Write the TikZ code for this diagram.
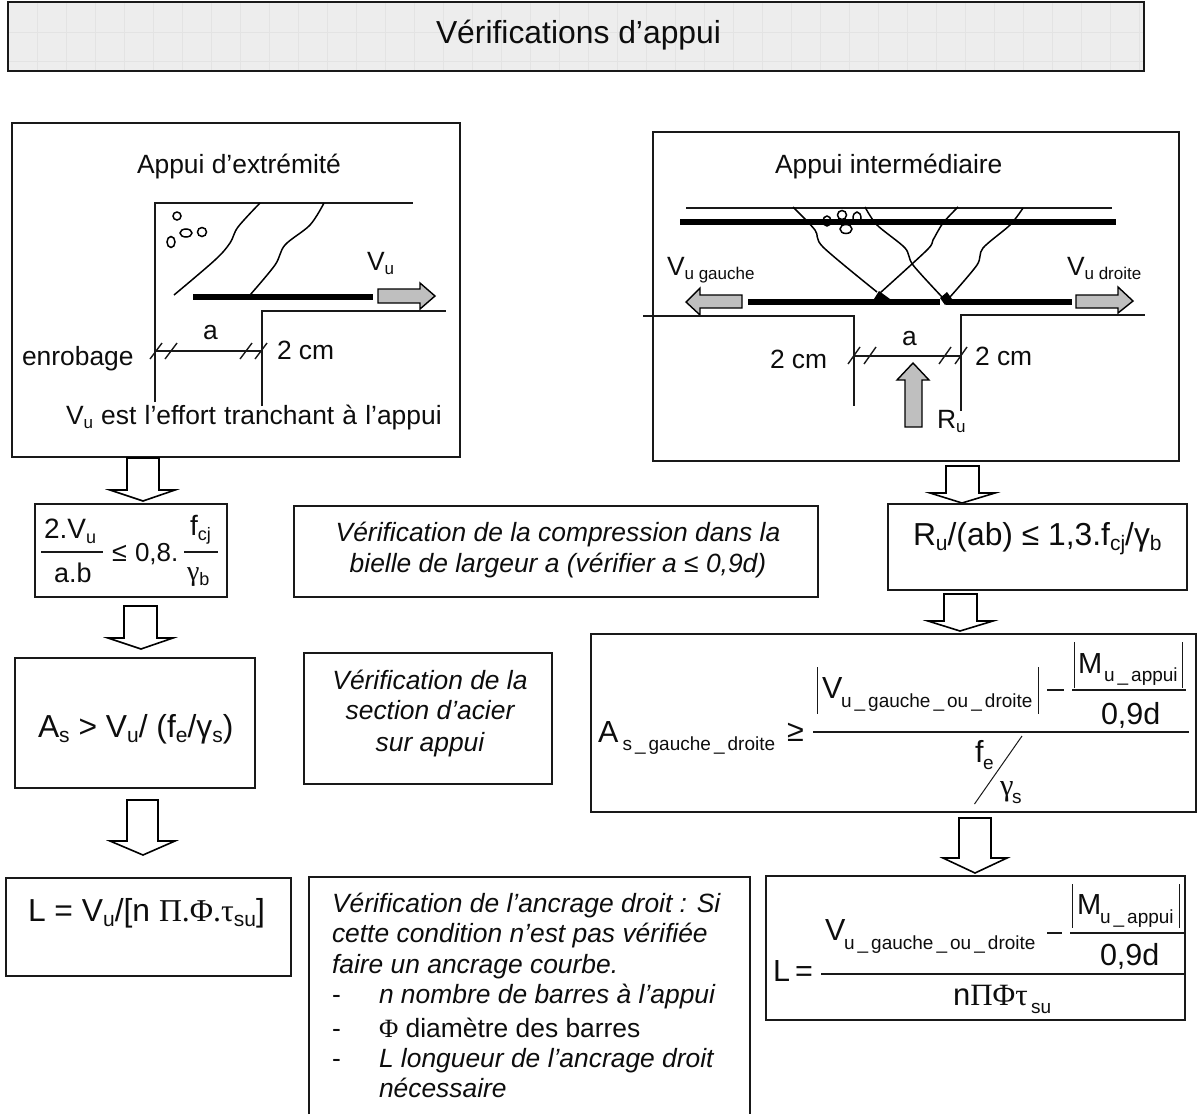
\documentclass[tikz,border=0pt]{standalone}
\usepackage{fontspec}
\setmainfont{Liberation Sans}
\newfontfamily\serifg{Liberation Serif}
\newcommand\fs{\fontsize{26.4}{30}\selectfont}
\newcommand\sbs[1]{\raisebox{-4.5pt}{\fontsize{17}{17}\selectfont #1}}
\newcommand\sbf[1]{\raisebox{-5pt}{\fontsize{18}{18}\selectfont #1}}
\newcommand\sbb[1]{\raisebox{-5.5pt}{\fontsize{21}{21}\selectfont #1}}
\newcommand\us{\hspace{.16em}\_\hspace{.16em}}
\newcommand\T[4]{\node[txt] (#1) at (#2,#3) {#4};}
\newcommand\TT[5]{\node[txt,font=\fontsize{#1}{#1}\selectfont] (#2) at (#3,#4) {#5};}
\newcommand\B[5]{\pgfmathsetmacro\bw{#4-#2}\pgfmathsetmacro\bh{#5-#3}\node[box,minimum width=\bw pt,minimum height=\bh pt] (#1) at ({(#2+#4)/2},{(#3+#5)/2}) {};}
% hollow block arrow: x-left-shaft, x-right-shaft, top, head base, head left, head right, tip x, tip y
\newcommand\Hol[8]{\draw[hollow] (#1,#3) -- (#2,#3) -- (#2,#4) -- (#6,#4) -- (#7,#8) -- (#5,#4) -- (#1,#4) -- cycle;}
\tikzset{
  x=1pt,y=-1pt,
  box/.style={draw=black!90,line width=1.8pt,inner sep=0pt,outer sep=0pt},
  txt/.style={anchor=base west,inner sep=0pt,outer sep=0pt,font=\fs,text=black!95},
  hollow/.style={draw=black,line width=1.6pt,fill=white,line join=miter},
  thinl/.style={line width=1.4pt,draw=black!90},
  hair/.style={line width=1pt,draw=black!90},
  crack/.style={line width=1.5pt,draw=black},
  rebar/.style={line width=6.5pt,draw=black},
  force/.style={draw=black,line width=1.4pt,fill=black!25}
}
\begin{document}
\begin{tikzpicture}
\useasboundingbox (0,0) rectangle (1197,1114);
% title
\fill[black!7] (8,2) rectangle (1144,71);
\foreach \gx in {37,66,...,1144} \draw[black!11,line width=.8pt] (\gx,3) -- (\gx,70);
\foreach \gy in {32,61} \draw[black!11,line width=.8pt] (9,\gy) -- (1143,\gy);
\B{title}{8}{2}{1144}{71}
\TT{31.85}{titletxt}{436}{43}{Vérifications d’appui}
% left support box
\B{endbox}{12}{123}{460}{457}
\T{endlab}{137}{173}{Appui d’extrémité}
\draw[thinl] (155,402) -- (155,203) -- (413,203);
\draw[crack] plot[smooth,tension=.55] coordinates {(260,203) (238,227) (230,243) (215,260) (174,295)};
\draw[crack] plot[smooth,tension=.55] coordinates {(324,203) (310,225) (285,245) (275,265) (250,295)};
\draw[crack] (177,216) circle (4pt) (186,233) ellipse [x radius=6pt,y radius=4pt] (202,232) circle (4.5pt) (171,242) ellipse [x radius=4pt,y radius=5.5pt];
\draw[rebar] (193,297) -- (373,297);
\draw[force] (378,289) -- (420,289) -- (420,283) -- (435,296) -- (420,309) -- (420,303) -- (378,303) -- cycle;
\draw[thinl] (262,406) -- (262,311) -- (446,311);
\draw[thinl] (155,351) -- (262,351);
\foreach \tx in {156,171,246,261} \draw[thinl] (\tx-6,359) -- (\tx+6,343);
\T{enda}{203}{339}{a}
\T{endenr}{22}{365}{enrobage}
\T{end2cm}{277}{359}{2 cm}
\T{endvu}{367}{270}{V\sbs{u}}
\T{endnote}{66}{424}{\spaceskip=.31em V\sbs{u} est l’effort tranchant à l’appui}
% right support box
\B{midbox}{653}{132}{1179}{461}
\T{midlab}{775}{173}{Appui intermédiaire}
\draw[thinl] (686,208) -- (1112,208);
\draw[crack] plot[smooth,tension=.5] coordinates {(793,207) (815,230) (823,247) (877,292)};
\draw[crack] plot[smooth,tension=.5] coordinates {(865,207) (877,225) (905,248) (913,265) (943,298)};
\draw[crack] plot[smooth,tension=.5] coordinates {(958,207) (943,223) (933,240) (927,250) (880,293)};
\draw[crack] plot[smooth,tension=.5] coordinates {(1023,208) (1010,225) (983,248) (977,265) (950,297)};
\draw[crack] (827,221) ellipse [x radius=4pt,y radius=5pt] (842,215) circle (4.5pt) (857,218) ellipse [x radius=4pt,y radius=6pt] (846,229) ellipse [x radius=6pt,y radius=4.5pt];
\draw[rebar] (680,222) -- (1116,222);
\draw[rebar] (748,302) -- (940,302);
\draw[rebar] (946,302) -- (1072,302);
\fill[black] (874,299) -- (879,291) -- (890,299) -- cycle;
\fill[black] (940,298) -- (947,292) -- (952,299) -- (945,305) -- cycle;
\draw[force] (742,295) -- (700,295) -- (700,288) -- (686,302) -- (700,315) -- (700,308) -- (742,308) -- cycle;
\draw[force] (1076,295) -- (1118,295) -- (1118,287) -- (1133,301) -- (1118,313) -- (1118,308) -- (1076,308) -- cycle;
\draw[thinl] (643,316) -- (854,316) -- (854,406);
\draw[thinl] (961,411) -- (961,315) -- (1145,315);
\draw[thinl] (854,356) -- (961,356);
\foreach \tx in {854,870,945,961} \draw[thinl] (\tx-6,364) -- (\tx+6,347);
\draw[force] (905,427) -- (905,380) -- (897,380) -- (913,363) -- (929,380) -- (922,380) -- (922,427) -- cycle;
\T{mida}{902}{345}{a}
\T{midl2}{770}{368}{2 cm}
\T{midr2}{975}{365}{2 cm}
\T{midru}{937}{428}{R\sbs{u}}
\T{midvg}{667}{275}{V\sbs{u gauche}}
\T{midvd}{1067}{275}{V\sbs{u droite}}
% hollow arrows
\Hol{127}{159}{458}{490}{110}{175}{143}{501}
\Hol{124}{157}{606}{638}{108}{173}{141}{649}
\Hol{127}{158}{800}{841}{110}{175}{143}{855}
\Hol{946}{979}{466}{493}{930}{995}{962}{503}
\Hol{944}{977}{594}{621}{928}{993}{960}{631}
\Hol{959}{991}{818}{858}{943}{1007}{975}{873}
% compression formula left
\B{fcomp}{35}{504}{227}{597}
\TT{28}{f1}{44}{538}{2.V\sbf{u}}
\draw[thinl] (41,552) -- (103,552);
\TT{27}{f2}{54}{582}{a.b}
\TT{27}{f3a}{112}{561}{≤}
\TT{26}{f3}{135}{561}{0,8.}
\draw[thinl] (184,552) -- (218,552);
\TT{28}{f4}{190}{535}{f\sbf{cj}}
\TT{28}{f5}{187}{580}{{\serifg γ}\sbf{b}}
% middle comments
\B{ccomp}{294}{506}{818}{597}
\node[txt,anchor=base] (c1) at (558,541) {\itshape Vérification de la compression dans la};
\node[txt,anchor=base] (c2) at (558,572) {\itshape bielle de largeur a (vérifier a ≤ 0,9d)};
\B{csec}{304}{653}{552}{784}
\node[txt,anchor=base] (s1) at (430,689) {\itshape Vérification de la};
\node[txt,anchor=base] (s2) at (430,719) {\itshape section d’acier};
\node[txt,anchor=base] (s3) at (430,751) {\itshape sur appui};
% right compression
\B{fru}{888}{504}{1187}{590}
\TT{31.8}{r1}{913}{545}{R\sbb{u}/(ab) ≤ 1,3.f\sbb{cj}/γ\sbb{b}}
% As left
\B{fas}{15}{658}{255}{788}
\TT{31.8}{as1}{38}{737}{A\sbb{s} > V\sbb{u}/ (f\sbb{e}/γ\sbb{s})}
% L left
\B{fl}{6}{878}{291}{976}
\TT{31.8}{l1}{28}{921}{L = V\sbb{u}/[n {\serifg Π.Φ.τ}\sbb{su}]}
% As right
\B{fasr}{591}{634}{1196}{812}
\TT{30.5}{a1}{598}{742}{A}
\TT{19}{a2}{622.5}{750}{s\us gauche\us droite}
\TT{30.5}{a3}{787}{741}{≥}
\draw[thinl] (813,732) -- (1189,732);
\draw[hair] (817,667) -- (817,714) (1038,667) -- (1038,714);
\TT{30.5}{a4}{822}{698}{V}
\TT{19}{a5}{841}{707}{u\us gauche\us ou\us droite}
\draw[thinl] (1047,690) -- (1064,690);
\draw[thinl] (1072,690) -- (1186,690);
\draw[hair] (1074,642) -- (1074,688) (1182,642) -- (1182,688);
\TT{29}{a6}{1078}{673}{M}
\TT{19}{a7}{1104}{681}{u\us appui}
\TT{30.5}{a8}{1101}{724}{0,9d}
\TT{30.5}{a9}{975}{762}{f}
\TT{19}{a10}{983}{769}{e}
\draw[hair] (1022,736) -- (974.5,804);
\TT{30.5}{a11}{1000}{795}{\serifg γ}
\TT{19}{a12}{1012}{803}{s}
% L right
\B{flr}{766}{876}{1185}{1020}
\TT{30.5}{b1}{773}{981}{L}
\TT{30.5}{b2}{795}{981}{=}
\draw[thinl] (821,974) -- (1185,974);
\TT{30.5}{b3}{825}{940}{V}
\TT{19}{b4}{844}{949}{u\us gauche\us ou\us droite}
\draw[thinl] (1047,933) -- (1062,933);
\draw[thinl] (1070,933) -- (1184,933);
\draw[hair] (1072,884) -- (1072,928) (1179,884) -- (1179,928);
\TT{29}{b5}{1077}{914}{M}
\TT{19}{b6}{1100}{923}{u\us appui}
\TT{30.5}{b7}{1100}{965}{0,9d}
\TT{31}{b8}{953}{1005}{n{\serifg ΠΦτ}}
\TT{19}{b9}{1031}{1013}{su}
% anchorage box
\draw[box] (309,1114) -- (309,877) -- (750,877) -- (750,1114);
\T{v1}{332}{912}{\itshape Vérification de l’ancrage droit : Si}
\T{v2}{332}{942}{\itshape cette condition n’est pas vérifiée}
\T{v3}{332}{973}{\itshape faire un ancrage courbe.}
\T{d1}{332}{1003}{-}
\T{v4}{379}{1003}{\itshape n nombre de barres à l’appui}
\T{d2}{332}{1037}{-}
\T{v5}{379}{1037}{{\serifg Φ} diamètre des barres}
\T{d3}{332}{1067}{-}
\T{v6}{379}{1067}{\itshape L longueur de l’ancrage droit}
\T{v7}{379}{1097}{\itshape nécessaire}
\end{tikzpicture}
\end{document}
